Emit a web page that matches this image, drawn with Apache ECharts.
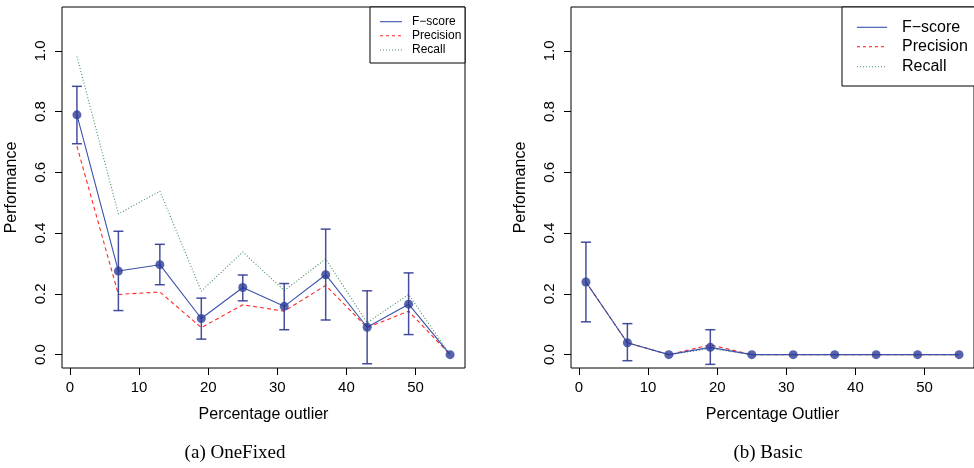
<!DOCTYPE html>
<html>
<head>
<meta charset="utf-8">
<script src="https://cdn.jsdelivr.net/npm/echarts@6/dist/echarts.min.js"></script>
<style>html,body{margin:0;padding:0;background:#fff;}#c{width:974px;height:468px;}</style>
</head>
<body>
<div id="c"></div>
<script>
// ---- data ----
const xValues = [1, 7, 13, 19, 25, 31, 37, 43, 49, 55];
const xTicks = [0, 10, 20, 30, 40, 50];
const yTicks = [0, 0.2, 0.4, 0.6, 0.8, 1.0];

const fOneFixed = [0.789, 0.275, 0.296, 0.119, 0.221, 0.159, 0.263, 0.090, 0.166, 0.0];
const pOneFixed = [0.686, 0.198, 0.206, 0.089, 0.164, 0.143, 0.228, 0.089, 0.143, 0.0];
const rOneFixed = [0.981, 0.463, 0.538, 0.209, 0.338, 0.211, 0.315, 0.105, 0.198, 0.0];
const loOneFixed = [0.694, 0.145, 0.230, 0.051, 0.177, 0.082, 0.114, -0.030, 0.066, 0.0];
const hiOneFixed = [0.883, 0.406, 0.363, 0.186, 0.262, 0.234, 0.413, 0.210, 0.269, 0.0];

const fBasic = [0.239, 0.039, 0.0, 0.024, 0.0, 0.0, 0.0, 0.0, 0.0, 0.0];
const pBasic = [0.239, 0.039, 0.0, 0.032, 0.0, 0.0, 0.0, 0.0, 0.0, 0.0];
const rBasic = [0.239, 0.039, 0.0, 0.020, 0.0, 0.0, 0.0, 0.0, 0.0, 0.0];
const loBasic = [0.108, -0.020, 0.0, -0.032, 0.0, 0.0, 0.0, 0.0, 0.0, 0.0];
const hiBasic = [0.370, 0.102, 0.0, 0.082, 0.0, 0.0, 0.0, 0.0, 0.0, 0.0];

const legendNames = ['F\u2212score', 'Precision', 'Recall'];
const xTitles = ['Percentage outlier', 'Percentage Outlier'];
const yTitle = 'Performance';
const captions = ['(a) OneFixed', '(b) Basic'];

// ---- styles ----
const FONT = 'Liberation Sans, Arial, Helvetica, sans-serif';
const cF = '#3b52ad', cP = '#ff2a2a', cR = '#3f8f5f', cPt = '#2d3d97', cErr = 'rgba(38,48,140,0.85)';

const pair = (xs, ys) => xs.map((x, i) => [x, ys[i]]);

function xAxisCfg(idx, title) {
  return {
    type: 'value', gridIndex: idx, min: -1.16, max: 57.16,
    name: title, nameLocation: 'middle', nameGap: 39,
    nameTextStyle: {fontFamily: FONT, fontSize: 16, color: '#000'},
    axisLine: {show: false, onZero: false},
    axisTick: {show: true, length: 7, lineStyle: {color: '#000'}, customValues: xTicks},
    axisLabel: {fontFamily: FONT, fontSize: 15, color: '#000', margin: 12, customValues: xTicks},
    splitLine: {show: false}
  };
}
function yAxisCfg(idx) {
  return {
    type: 'value', gridIndex: idx, min: -0.044, max: 1.144,
    name: yTitle, nameLocation: 'middle', nameGap: 42, nameRotate: 90,
    nameTextStyle: {fontFamily: FONT, fontSize: 16, color: '#000'},
    axisLine: {show: false, onZero: false},
    axisTick: {show: true, length: 7, lineStyle: {color: '#000'}, customValues: yTicks},
    axisLabel: {fontFamily: FONT, fontSize: 15, color: '#000', rotate: 90, margin: 14,
      customValues: yTicks, formatter: v => v.toFixed(1)},
    splitLine: {show: false}
  };
}
function lineSeries(idx, data, color, type, name) {
  return {type: 'line', name, xAxisIndex: idx, yAxisIndex: idx, data: pair(xValues, data),
    symbol: 'none', silent: true, animation: false, z: 2,
    lineStyle: {color, width: 1.1, type}};
}
function errSeries(idx, lo, hi) {
  return {type: 'custom', xAxisIndex: idx, yAxisIndex: idx, animation: false, silent: true, z: 3,
    data: xValues.map((x, i) => [x, lo[i], hi[i]]),
    renderItem: function (params, api) {
      const x = api.value(0), l = api.value(1), h = api.value(2);
      if (h === l) return null;
      const a = api.coord([x, l]), b = api.coord([x, h]);
      const w = 5;
      const st = {stroke: cErr, lineWidth: 1.5};
      return {type: 'group', children: [
        {type: 'line', shape: {x1: a[0], y1: a[1], x2: b[0], y2: b[1]}, style: st},
        {type: 'line', shape: {x1: a[0] - w, y1: a[1], x2: a[0] + w, y2: a[1]}, style: st},
        {type: 'line', shape: {x1: b[0] - w, y1: b[1], x2: b[0] + w, y2: b[1]}, style: st}
      ]};
    }};
}
function pointSeries(idx, data) {
  return {type: 'scatter', xAxisIndex: idx, yAxisIndex: idx, data: pair(xValues, data),
    symbol: 'circle', symbolSize: 9, silent: true, animation: false, z: 4,
    itemStyle: {color: cPt}};
}
function legendGraphic(box, lx1, lx2, tx, ys, fs) {
  const els = [{type: 'rect', shape: box, style: {fill: '#fff', stroke: '#000', lineWidth: 1}, z: 10}];
  const styles = [
    {stroke: cF, lineWidth: 1.1},
    {stroke: cP, lineWidth: 1.1, lineDash: [3, 3]},
    {stroke: cR, lineWidth: 1.1, lineDash: [1, 2]}
  ];
  ys.forEach((y, i) => {
    els.push({type: 'line', shape: {x1: lx1, y1: y, x2: lx2, y2: y}, style: styles[i], z: 11});
    els.push({type: 'text', x: tx, y: y, z: 11, style: {text: legendNames[i], font: fs + 'px ' + FONT,
      fill: '#000', textAlign: 'left', textVerticalAlign: 'middle'}});
  });
  return els;
}

const chart = echarts.init(document.getElementById('c'), null, {renderer: 'canvas'});
chart.setOption({
  animation: false,
  backgroundColor: '#fff',
  grid: [
    {left: 62, right: 509, top: 7, bottom: 100, show: true, borderColor: '#000', borderWidth: 1, backgroundColor: 'transparent'},
    {left: 571, right: -2, top: 7, bottom: 100, show: true, borderColor: '#000', borderWidth: 1, backgroundColor: 'transparent'}
  ],
  xAxis: [xAxisCfg(0, xTitles[0]), xAxisCfg(1, xTitles[1])],
  yAxis: [yAxisCfg(0), yAxisCfg(1)],
  series: [
    lineSeries(0, rOneFixed, cR, [1, 2], 'Recall'),
    lineSeries(0, pOneFixed, cP, [4, 3], 'Precision'),
    lineSeries(0, fOneFixed, cF, 'solid', 'F-score'),
    errSeries(0, loOneFixed, hiOneFixed),
    pointSeries(0, fOneFixed),
    lineSeries(1, rBasic, cR, [1, 2], 'Recall'),
    lineSeries(1, pBasic, cP, [4, 3], 'Precision'),
    lineSeries(1, fBasic, cF, 'solid', 'F-score'),
    errSeries(1, loBasic, hiBasic),
    pointSeries(1, fBasic)
  ],
  graphic: [].concat(
    legendGraphic({x: 370, y: 7, width: 95, height: 56}, 380, 402, 412, [21.7, 35.7, 50], 12),
    legendGraphic({x: 842, y: 7, width: 140, height: 79}, 857, 887, 902, [27.3, 46.7, 66.7], 16),
    [
      {type: 'text', x: 235, y: 453, style: {text: captions[0], font: '19px "Liberation Serif", "DejaVu Serif", serif', fill: '#000', textAlign: 'center', textVerticalAlign: 'middle'}},
      {type: 'text', x: 768, y: 453, style: {text: captions[1], font: '19px "Liberation Serif", "DejaVu Serif", serif', fill: '#000', textAlign: 'center', textVerticalAlign: 'middle'}}
    ]
  )
});
</script>
</body>
</html>
